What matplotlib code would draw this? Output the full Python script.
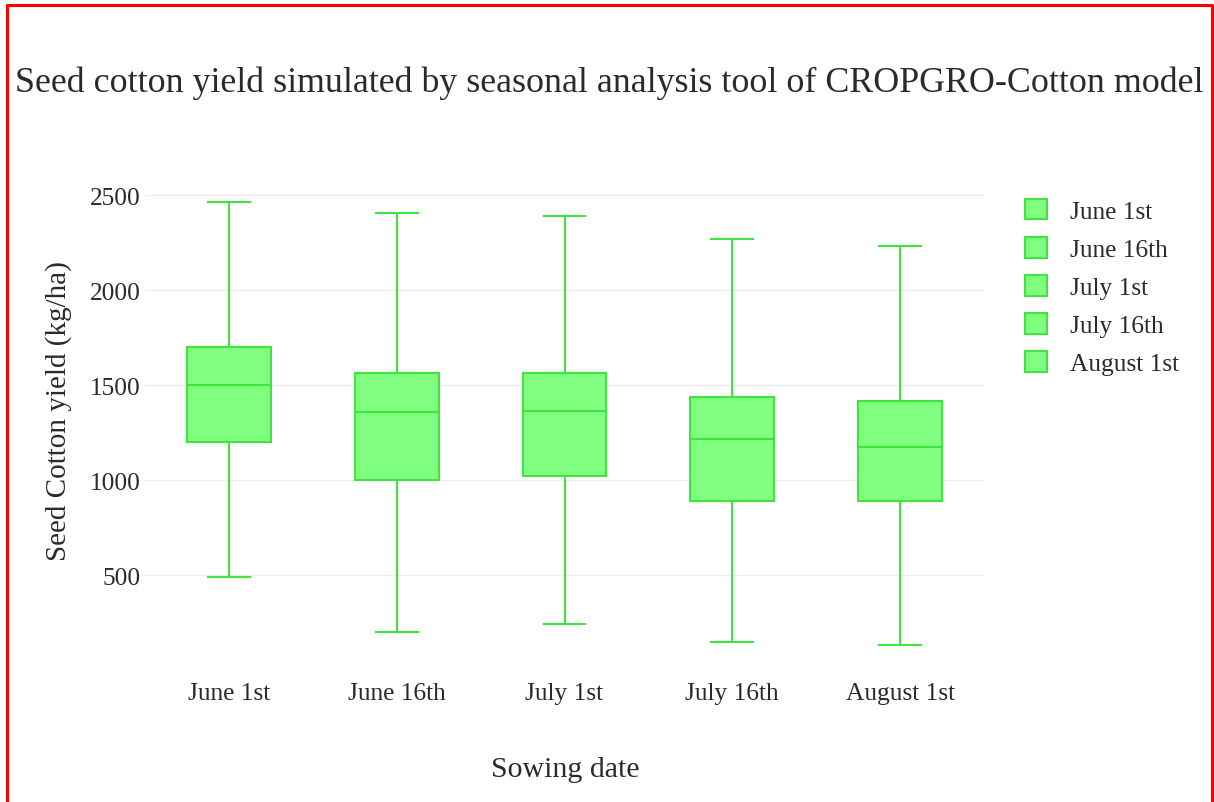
import matplotlib
matplotlib.use("Agg")
import matplotlib.pyplot as plt
from matplotlib.patches import Patch
from matplotlib.lines import Line2D

plt.rcParams['font.family'] = ['Liberation Serif', 'DejaVu Serif']

categories = ["June 1st", "June 16th", "July 1st", "July 16th", "August 1st"]
lower_whisker = [490, 200, 245, 150, 135]
q1 = [1200, 1000, 1025, 890, 890]
median = [1500, 1360, 1365, 1217, 1175]
q3 = [1700, 1565, 1565, 1438, 1418]
upper_whisker = [2465, 2404, 2390, 2268, 2230]
y_ticks = [500, 1000, 1500, 2000, 2500]

fill = '#80ff80'
edge = '#3fe43f'
txt = '#2a2a2a'

W, H = 1214, 803
fig = plt.figure(figsize=(W / 100, H / 100), dpi=100)
ax = fig.add_axes([145 / W, 1 - 668 / H, (984 - 145) / W, (668 - 180) / H])

stats = []
for i, c in enumerate(categories):
    stats.append(dict(label=c, whislo=lower_whisker[i], q1=q1[i], med=median[i],
                      q3=q3[i], whishi=upper_whisker[i], fliers=[]))
ax.bxp(stats, positions=range(len(categories)), widths=0.5, patch_artist=True,
       showfliers=False,
       boxprops=dict(facecolor=fill, edgecolor=edge, linewidth=1.5),
       medianprops=dict(color=edge, linewidth=1.5),
       whiskerprops=dict(color=edge, linewidth=1.5),
       capprops=dict(color=edge, linewidth=1.5),
       capwidths=0.25)

ax.set_xlim(-0.5, len(categories) - 0.5)
ax.set_ylim(18, 2585)
ax.set_yticks(y_ticks)
ax.set_xticks(range(len(categories)))
ax.set_xticklabels(categories)
ax.grid(axis='y', color='#eeeeee', linewidth=1)
ax.set_axisbelow(True)
for s in ax.spines.values():
    s.set_visible(False)
ax.tick_params(length=0, labelsize=18.3, colors=txt)
ax.tick_params(axis='x', pad=10.5)
ax.tick_params(axis='y', pad=3)

fig.text(565 / W, 1 - 770 / H, "Sowing date", ha='center', va='center', fontsize=21.5, color=txt)
fig.text(59 / W, 1 - 411 / H, "Seed Cotton yield (kg/ha)", ha='center', va='center',
         rotation=90, fontsize=21, color=txt)
fig.text(609 / W, 1 - 83 / H,
         "Seed cotton yield simulated by seasonal analysis tool of CROPGRO-Cotton model",
         ha='center', va='center', fontsize=25.8, color=txt)

handles = [Patch(facecolor=fill, edgecolor=edge, linewidth=1.5, label=c) for c in categories]
fig.legend(handles=handles, loc='upper left', bbox_to_anchor=(1002 / W, 1 - 177 / H),
           frameon=False, fontsize=18.3, handlelength=0.87, handleheight=0.87,
           labelspacing=0.55, handletextpad=0.9, labelcolor=txt)

# red frame (left, top, right)
xl, xr, yt = 6.5 / W, 1211.5 / W, 1 - 6 / H
fig.add_artist(Line2D([xl, xl, xr, xr], [0, yt, yt, 0], transform=fig.transFigure,
                      color='red', linewidth=2.2))

fig.savefig("out.png", dpi=100, facecolor='white')
